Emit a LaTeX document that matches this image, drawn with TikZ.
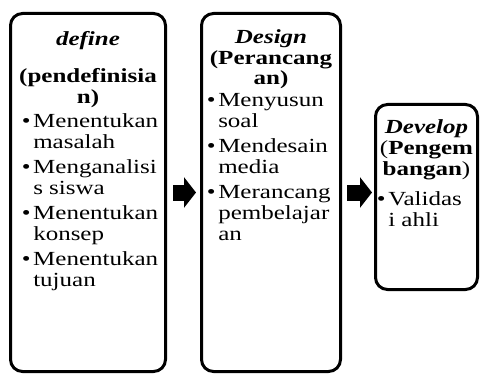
\documentclass[tikz,border=0pt]{standalone}
\usepackage{fontspec}
\setmainfont{Liberation Serif}[FakeStretch=1.25]
\usetikzlibrary{arrows.meta,positioning}

\newcommand{\bul}{\llap{\textbullet\hspace{2pt}}}

\begin{document}
\begin{tikzpicture}[
    x=0.75pt, y=-0.75pt,
    % --- STYLES ---
    stage/.style={
        rectangle, rounded corners=9pt,
        draw=black, fill=white,
        line width=2.25pt, inner sep=0pt
    },
    title/.style={
        align=center, inner sep=0pt,
        font=\fontsize{15}{15.4}\selectfont\bfseries
    },
    items/.style={
        align=left, inner sep=0pt,
        font=\fontsize{15}{15.4}\selectfont
    },
    flow/.style={line width=12pt, -{Triangle[length=9pt,width=22.5pt]}}
]
\useasboundingbox (0,0) rectangle (484,374);

% ===== 1. STAGES =====
\node[stage, minimum width=116.25pt, minimum height=268.5pt] (define) at (88,192.5) {};
\node[stage, minimum width=104.25pt, minimum height=268.5pt] (design) at (271,192.5) {};
\node[stage, minimum width=76.5pt, minimum height=138.75pt] (develop) at (426.5,197) {};

% ===== 2. TEXTS (anchored at the last baseline) =====
\node[title, anchor=base] (defineT) at (88,103.5) {\textit{define}\\[13pt](pendefinisia\\n)};
\node[items, anchor=base west] (defineL) at (33,286.5) {\bul Menentukan\\masalah\\[3.75pt]%
    \bul Menganalisi\\s siswa\\[3.75pt]\bul Menentukan\\konsep\\[3.75pt]\bul Menentukan\\tujuan};

\node[title, anchor=base] (designT) at (271,85) {\textit{Design}\\(Perancang\\an)};
\node[items, anchor=base west] (designL) at (218,240) {\bul Menyusun\\soal\\[3.75pt]%
    \bul Mendesain\\media\\[3.75pt]\bul Merancang\\pembelajar\\an};

\node[title, anchor=base] (developT) at (426.5,175) {\textit{Develop}\\{\mdseries(}Pengem\\bangan{\mdseries)}};
\node[items, anchor=base west] (developL) at (388,226) {\bul Validas\\i ahli};

% ===== 3. ARROWS =====
\draw[flow, shorten <=4.5pt, shorten >=3pt] (define.east) -- (design.west);
\draw[flow, shorten <=3.75pt, shorten >=1.5pt] (design.east) -- (design.east -| develop.west);

\end{tikzpicture}
\end{document}
